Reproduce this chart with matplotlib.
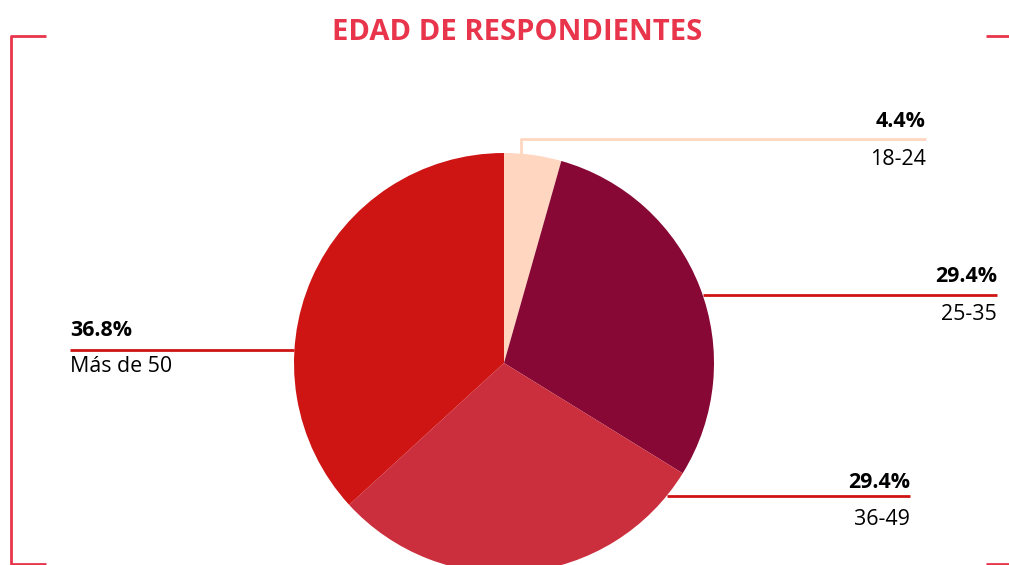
import matplotlib
matplotlib.use("Agg")
import matplotlib.pyplot as plt
import numpy as np

categories = ["18-24", "25-35", "36-49", "Más de 50"]
values = [4.4, 29.4, 29.4, 36.8]
pct_labels = ["4.4%", "29.4%", "29.4%", "36.8%"]
colors = ["#FFD6C0", "#870835", "#CB2E3C", "#CF1414"]
line_colors = ["#FFD6C0", "#CF1414", "#CF1414", "#CF1414"]
title = "EDAD DE RESPONDIENTES"

W, H = 1009, 565
fig = plt.figure(figsize=(W / 100, H / 100), dpi=100)
ax = fig.add_axes([0, 0, 1, 1])
ax.set_xlim(0, W)
ax.set_ylim(0, H)
ax.axis("off")

cx, cy, r = 504, H - 363, 210
ax.pie(values, colors=colors, startangle=90, counterclock=False,
       center=(cx, cy), radius=r, wedgeprops=dict(linewidth=0))
ax.set_xlim(0, W)
ax.set_ylim(0, H)
ax.set_aspect("equal", adjustable="box")

font = "Open Sans"
fs = 15.4
red = "#E8354B"

# title
ax.text(517, H - 40, title, ha="center", va="baseline", fontsize=21,
        fontweight="bold", color=red, family=font)

# bracket frame
lw = 2
ax.plot([46, 11, 11], [H - 36, H - 36, -5], color=red, lw=lw, solid_capstyle="butt")
ax.plot([11, 46], [H - 564, H - 564], color=red, lw=lw, solid_capstyle="butt")
ax.plot([986, W + 5], [H - 36, H - 36], color=red, lw=lw, solid_capstyle="butt")
ax.plot([986, W + 5], [H - 564, H - 564], color=red, lw=lw, solid_capstyle="butt")

def edge_x(ly, side):
    dy = ly - cy
    dx = np.sqrt(max(r * r - dy * dy, 0))
    return cx + side * dx

# label layout in px from top: (line y, top baseline, bottom baseline, text x, align, side)
layout = [
    (139, 127, 165, 926, "right", 0),
    (295, 282, 320, 997, "right", 1),
    (496, 487.5, 525, 910, "right", 1),
    (350, 336, 372, 70, "left", -1),
]
for i, (lyp, t1, t2, tx, al, side) in enumerate(layout):
    ly = H - lyp
    lc = line_colors[i]
    if side == 0:
        vx = 521
        vy = cy + np.sqrt(r * r - (vx - cx) ** 2)
        ax.plot([tx, vx, vx], [ly, ly, vy - 1], color=lc, lw=2, solid_capstyle="butt")
    else:
        ex = edge_x(ly, side)
        ax.plot([tx, ex], [ly, ly], color=lc, lw=2, solid_capstyle="butt", zorder=0)
    ax.text(tx, H - t1, pct_labels[i], ha=al, va="baseline", fontsize=fs,
            fontweight="bold", color="#000000", family=font)
    ax.text(tx, H - t2, categories[i], ha=al, va="baseline", fontsize=fs,
            color="#000000", family=font)

fig.savefig("out.png", dpi=100)
